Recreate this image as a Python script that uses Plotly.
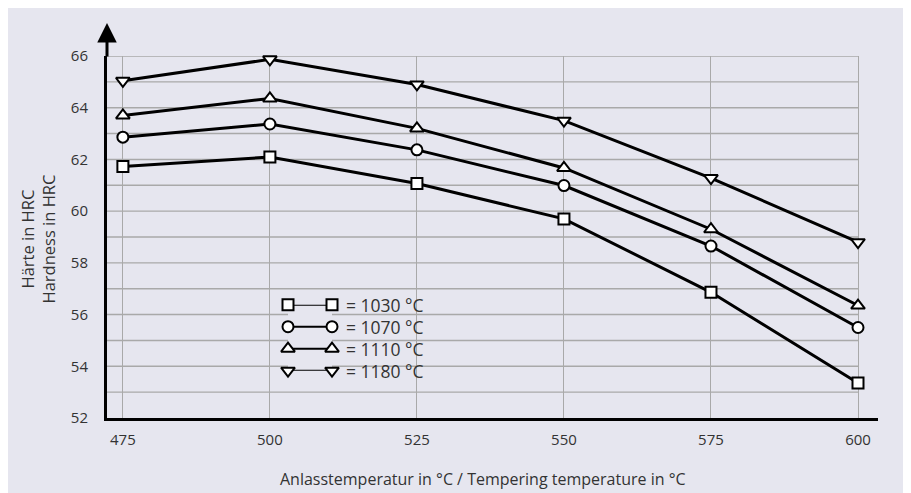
import plotly.graph_objects as go

# ---- data ----
temperatures = [475, 500, 525, 550, 575, 600]
hrc_1030 = [61.73, 62.09, 61.07, 59.70, 56.86, 53.35]
hrc_1070 = [62.86, 63.37, 62.37, 60.99, 58.65, 55.50]
hrc_1110 = [63.70, 64.36, 63.20, 61.67, 59.30, 56.35]
hrc_1180 = [65.04, 65.87, 64.90, 63.50, 61.28, 58.80]
series_labels = ["= 1030 °C", "= 1070 °C", "= 1110 °C", "= 1180 °C"]
y_tick_vals = [52, 54, 56, 58, 60, 62, 64, 66]
y_grid_vals = list(range(53, 67))
x_tick_vals = [475, 500, 525, 550, 575, 600]

series = [hrc_1030, hrc_1070, hrc_1110, hrc_1180]
symbols = ["square", "circle", "triangle-up", "triangle-down"]
sizes = [11, 11, 12, 12]

PANEL = "#e6e6ef"
GRID = "#a9a9a9"
FONT = "Open Sans"
TXT = "#333333"

# plot area in pixels (figure coordinates)
W, H = 911, 493
L, T = 99, 48
pw, ph = 771, 362
R, B = W - L - pw, H - T - ph

XMIN, XMAX = 472.3, 603.4
YMIN, YMAX = 52, 66

fig = go.Figure()

for vals, sym, sz in zip(series, symbols, sizes):
    fig.add_trace(go.Scatter(
        x=temperatures, y=vals, mode="lines+markers",
        line=dict(color="black", width=3),
        marker=dict(symbol=sym, size=sz, color="white",
                    line=dict(color="black", width=2)),
        showlegend=False, cliponaxis=False, hoverinfo="skip"))

# legend keys drawn on an overlay axis
for i, (sym, sz) in enumerate(zip(symbols, sizes)):
    fig.add_trace(go.Scatter(
        x=[0, 1], y=[i, i], xaxis="x2", yaxis="y2", mode="lines+markers",
        line=dict(color="black", width=2),
        marker=dict(symbol=sym, size=sz, color="white",
                    line=dict(color="black", width=2)),
        showlegend=False, cliponaxis=False, hoverinfo="skip"))

shapes = []
# horizontal grid lines only up to 600
for gv in y_grid_vals:
    shapes.append(dict(type="line", xref="x", yref="y",
                       x0=XMIN, x1=x_tick_vals[-1], y0=gv, y1=gv,
                       line=dict(color=GRID, width=1.4), layer="below"))

annotations = []
for i, lab in enumerate(series_labels):
    annotations.append(dict(xref="x2", yref="y2", x=1, y=i, text=lab,
                            showarrow=False, xanchor="left", yanchor="middle",
                            xshift=12, font=dict(family=FONT, size=17.5, color=TXT)))
# y axis arrow
tip_px = 15
annotations.append(dict(xref="paper", yref="paper", x=0, y=(ph + (T - tip_px)) / ph,
                        ax=0, ay=(T - tip_px) + 2, axref="pixel", ayref="pixel",
                        showarrow=True, arrowhead=2, arrowsize=1.3, arrowwidth=3,
                        arrowcolor="black", text=""))
# axis titles
annotations.append(dict(xref="paper", yref="paper", x=(29.5 - L) / pw, y=(T + ph - 231) / ph,
                        text="Härte in HRC<br>Hardness in HRC", textangle=-90,
                        showarrow=False, xanchor="center", yanchor="middle",
                        font=dict(family=FONT, size=16.5, color=TXT)))
annotations.append(dict(xref="paper", yref="paper", x=(475 - L) / pw, y=(T + ph - 471) / ph,
                        text="Anlasstemperatur in °C / Tempering temperature in °C",
                        showarrow=False, xanchor="center", yanchor="middle",
                        font=dict(family=FONT, size=16, color=TXT)))

fig.update_layout(
    width=W, height=H,
    margin=dict(l=L, r=R, t=T, b=B),
    paper_bgcolor=PANEL, plot_bgcolor=PANEL,
    showlegend=False,
    shapes=shapes, annotations=annotations,
    xaxis=dict(range=[XMIN, XMAX], tickvals=x_tick_vals, showgrid=True,
               gridcolor=GRID, gridwidth=1.4, showline=True, linecolor="black",
               linewidth=3, ticks="", zeroline=False, ticklabelstandoff=6,
               tickfont=dict(family=FONT, size=15, color=TXT)),
    yaxis=dict(range=[YMIN, YMAX], tickvals=y_tick_vals, showgrid=False,
               showline=True, linecolor="black", linewidth=3, ticks="",
               zeroline=False, ticklabelstandoff=13,
               tickfont=dict(family=FONT, size=15, color=TXT)),
    xaxis2=dict(domain=[(280 - L) / pw, (324 - L) / pw], range=[0, 1],
                visible=False, anchor="y2"),
    yaxis2=dict(domain=[(T + ph - 362.7) / ph, (T + ph - 296.7) / ph], range=[3, 0],
                visible=False, anchor="x2"),
)

fig.write_html("out.html")
